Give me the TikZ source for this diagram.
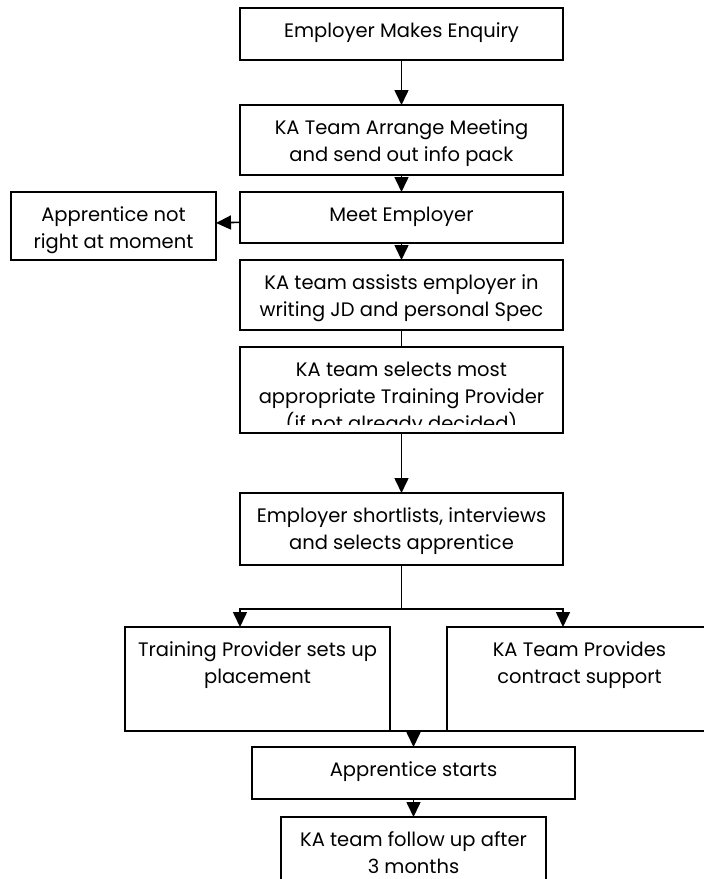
\documentclass[tikz,border=0pt]{standalone}
\usepackage{fontspec}
\setmainfont{Poppins}
\usepackage{tikz}
\usetikzlibrary{arrows.meta}
\usetikzlibrary{positioning}
\newcommand{\boxlines}[3]{\parbox[c][#2][t]{#1}{\centering\rule{0pt}{29pt}#3}}

\begin{document}
\begin{tikzpicture}[x=1pt,y=-1pt,line width=1.6pt,
    box/.style={draw,inner sep=0pt,outer sep=0pt,anchor=north west},
    >={Triangle[length=15pt,width=14pt]},
    font=\fontsize{19.5}{27}\selectfont]
    \useasboundingbox (0,0) rectangle (704,879);

    \node[box] (enquiry) at (240,8) {\boxlines{323pt}{52pt}{Employer Makes Enquiry}};
    \node[box,below=45pt of enquiry] (arrange) {\boxlines{323pt}{70pt}{KA Team Arrange Meeting\\and send out info pack}};
    \node[box,below=17pt of arrange] (meet) {\boxlines{323pt}{51pt}{Meet Employer}};
    \node[box,left=24pt of meet.north west,anchor=north east] (notright) {\boxlines{205pt}{68pt}{Apprentice not\\right at moment}};
    \node[box,below=17pt of meet] (assists) {\boxlines{323pt}{70pt}{KA team assists employer in\\writing JD and personal Spec}};
    \node[box,below=17pt of assists,minimum width=323pt,minimum height=86pt] (selects) {};
    \begin{scope}
        \clip (selects.north west) rectangle ([yshift=9pt]selects.south east);
        \node[anchor=north,inner sep=0pt] (selectstext) at (selects.north) {\boxlines{323pt}{86pt}{KA team selects most\\appropriate Training Provider\\(if not already decided)}};
    \end{scope}
    \node[box,below=60pt of selects] (shortlists) {\boxlines{323pt}{72pt}{Employer shortlists, interviews\\and selects apprentice}};

    \node[box] (provider) at (125,627) {\boxlines{265pt}{104pt}{Training Provider sets up\\placement}};
    \node[box] (contract) at (447,627) {\boxlines{275pt}{104pt}{\hspace*{-10pt}KA Team Provides\\\hspace*{-10pt}contract support}};
    \node[box] (starts) at (252,747) {\boxlines{323pt}{52pt}{Apprentice starts}};
    \node[box,below=18pt of starts] (followup) {\boxlines{265pt}{70pt}{KA team follow up after\\3 months}};

    \coordinate (split) at (shortlists.south |- 0,609);
    \coordinate (leftdrop) at (240,609);
    \coordinate (rightdrop) at (563,609);
    \coordinate (joinleft) at (252,731);
    \coordinate (joinright) at (575,731);

    \path[->]   (enquiry) edge (arrange)
                (arrange) edge (meet)
                (meet) edge (notright)
                (meet) edge (assists)
                (selects) edge (shortlists)
                (starts) edge (followup);
    \draw (assists) -- (selects);
    \draw (shortlists) -- (split);
    \draw[->] (split) -- (leftdrop) -- (leftdrop |- provider.north);
    \draw[->] (split) -- (rightdrop) -- (rightdrop |- contract.north);
    \draw (joinleft) -- (joinright);
    \draw[->] (starts.north |- joinleft) -- (starts);
\end{tikzpicture}
\end{document}
